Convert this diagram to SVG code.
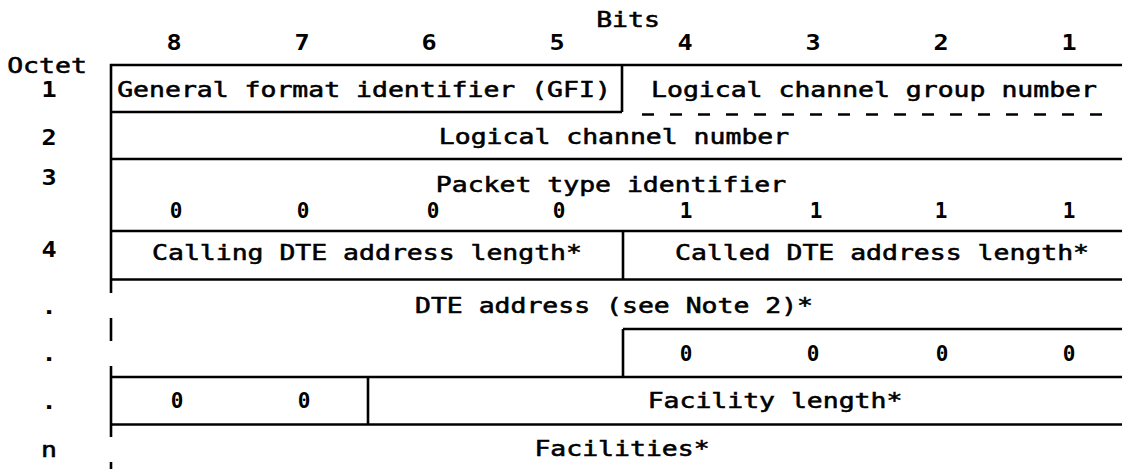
<svg xmlns="http://www.w3.org/2000/svg" width="1122" height="469" viewBox="0 0 1122 469">
  <style>
    /* wide typewriter-style lettering: mono face stretched horizontally */
    .t { font-family: "DejaVu Sans Mono", "Liberation Mono", monospace; font-size: 21px; fill: #000; stroke: #000; stroke-width: 0.55px; text-anchor: middle; }
    .d { font-family: "DejaVu Sans Mono", "Liberation Mono", monospace; font-size: 21px; font-weight: bold; fill: #000; text-anchor: middle; }
    .ln { stroke: #000; stroke-width: 2.6; fill: none; }
    .dash { stroke: #000; stroke-width: 2.6; fill: none; stroke-dasharray: 12 16; }
  </style>
  <rect width="1122" height="469" fill="#fff"/>

  <!-- column headings -->
  <g id="bits-header">
    <text class="t" transform="translate(628 27) scale(1.26 1)">Bits</text>
    <text class="d" transform="translate(174 50) scale(1.2 1)">8</text>
    <text class="d" transform="translate(302 50) scale(1.2 1)">7</text>
    <text class="d" transform="translate(429 50) scale(1.2 1)">6</text>
    <text class="d" transform="translate(557 50) scale(1.2 1)">5</text>
    <text class="d" transform="translate(685 50) scale(1.2 1)">4</text>
    <text class="d" transform="translate(813 50) scale(1.2 1)">3</text>
    <text class="d" transform="translate(941 50) scale(1.2 1)">2</text>
    <text class="d" transform="translate(1069 50) scale(1.2 1)">1</text>
  </g>

  <!-- octet numbers -->
  <g id="octet-labels">
    <text class="t" transform="translate(47 73) scale(1.26 1)">Octet</text>
    <text class="d" transform="translate(49 97) scale(1.2 1)">1</text>
    <text class="d" transform="translate(49 145) scale(1.2 1)">2</text>
    <text class="d" transform="translate(49 185) scale(1.2 1)">3</text>
    <text class="d" transform="translate(49 257) scale(1.2 1)">4</text>
    <text class="d" transform="translate(49 314) scale(1.2 1)">.</text>
    <text class="d" transform="translate(49 361) scale(1.2 1)">.</text>
    <text class="d" transform="translate(49 409) scale(1.2 1)">.</text>
    <text class="t" transform="translate(49 457) scale(1.26 1)">n</text>
  </g>

  <!-- table rules -->
  <g id="rules">
    <line class="ln" x1="110" y1="65" x2="1122" y2="65"/>
    <line class="ln" x1="110" y1="112" x2="622" y2="112"/>
    <line class="dash" x1="642" y1="114.5" x2="1102" y2="114.5"/>
    <line class="ln" x1="110" y1="159" x2="1122" y2="159"/>
    <line class="ln" x1="110" y1="231" x2="1122" y2="231"/>
    <line class="ln" x1="110" y1="279.5" x2="1122" y2="279.5"/>
    <line class="ln" x1="623" y1="329" x2="1122" y2="329"/>
    <line class="ln" x1="110" y1="377" x2="1122" y2="377"/>
    <line class="ln" x1="110" y1="424.5" x2="1122" y2="424.5"/>
    <!-- left border, broken where the octets are elided -->
    <line class="ln" x1="111" y1="64" x2="111" y2="293"/>
    <line class="ln" x1="111" y1="318" x2="111" y2="341"/>
    <line class="ln" x1="111" y1="366" x2="111" y2="437"/>
    <line class="ln" x1="111" y1="462" x2="111" y2="469"/>
    <!-- field dividers -->
    <line class="ln" x1="622" y1="65" x2="622" y2="112"/>
    <line class="ln" x1="623" y1="231" x2="623" y2="280"/>
    <line class="ln" x1="623" y1="329" x2="623" y2="377"/>
    <line class="ln" x1="368" y1="377" x2="368" y2="424.5"/>
  </g>

  <g id="gfi"><text class="t" transform="translate(364 96.5) scale(1.26 1)">General format identifier (GFI)</text></g>
  <g id="lcgn"><text class="t" transform="translate(874 96.5) scale(1.26 1)">Logical channel group number</text></g>
  <g id="lcn"><text class="t" transform="translate(614 144) scale(1.26 1)">Logical channel number</text></g>
  <g id="pti">
    <text class="t" transform="translate(611 191.5) scale(1.26 1)">Packet type identifier</text>
    <text class="d" transform="translate(176 218)">0</text>
    <text class="d" transform="translate(303 218)">0</text>
    <text class="d" transform="translate(433 218)">0</text>
    <text class="d" transform="translate(559 218)">0</text>
    <text class="d" transform="translate(686 218)">1</text>
    <text class="d" transform="translate(816 218)">1</text>
    <text class="d" transform="translate(941 218)">1</text>
    <text class="d" transform="translate(1069 218)">1</text>
  </g>
  <g id="calling-len"><text class="t" transform="translate(367 260) scale(1.26 1)">Calling DTE address length*</text></g>
  <g id="called-len"><text class="t" transform="translate(882 260) scale(1.26 1)">Called DTE address length*</text></g>
  <g id="dte-address"><text class="t" transform="translate(614 313) scale(1.26 1)">DTE address (see Note 2)*</text></g>
  <g id="pad-bits">
    <text class="d" transform="translate(686 361)">0</text>
    <text class="d" transform="translate(813 361)">0</text>
    <text class="d" transform="translate(942 361)">0</text>
    <text class="d" transform="translate(1069 361)">0</text>
  </g>
  <g id="fac-zeros">
    <text class="d" transform="translate(177 408)">0</text>
    <text class="d" transform="translate(304 408)">0</text>
  </g>
  <g id="fac-len"><text class="t" transform="translate(775 408) scale(1.26 1)">Facility length*</text></g>
  <g id="facilities"><text class="t" transform="translate(622 456) scale(1.26 1)">Facilities*</text></g>
</svg>
